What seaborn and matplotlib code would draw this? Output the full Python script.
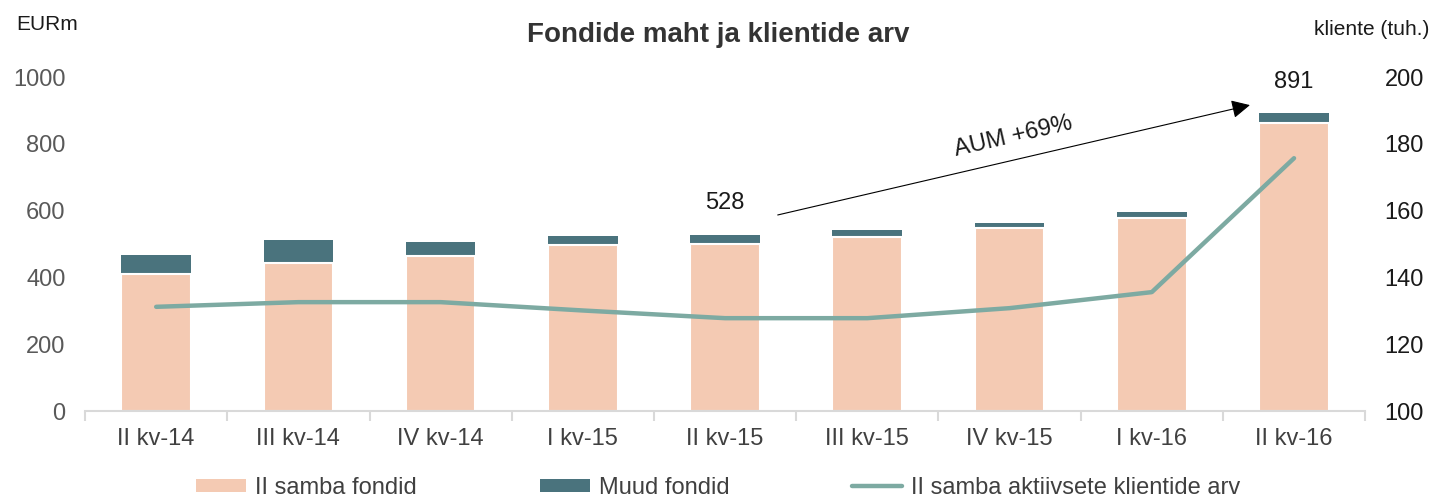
import numpy as np
import pandas as pd
import matplotlib
matplotlib.use("Agg")
import matplotlib.pyplot as plt
import seaborn as sns
from matplotlib.patches import Patch
from matplotlib.lines import Line2D

# data
quarters = ['II kv-14', 'III kv-14', 'IV kv-14', 'I kv-15', 'II kv-15',
            'III kv-15', 'IV kv-15', 'I kv-16', 'II kv-16']
pillar2_funds = [410, 443, 464, 497, 500, 521, 548, 578, 862]   # II samba fondid
other_funds = [57, 69, 42, 27, 28, 21, 15, 18, 29]              # Muud fondid
clients = [131.2, 132.6, 132.6, 130.1, 127.8, 127.8, 130.8, 135.6, 175.7]  # tuh.

PEACH = '#F4CAB3'
TEAL_DARK = '#4A737D'
LINE_COL = '#7DAAA2'

sns.set_theme(style='white')
plt.rcParams['font.family'] = ['Liberation Sans', 'DejaVu Sans']

df = pd.DataFrame({'quarter': quarters,
                   'pillar2': pillar2_funds,
                   'total': np.array(pillar2_funds) + np.array(other_funds),
                   'clients': clients})

fig = plt.figure(figsize=(14.37, 4.97), dpi=100)
ax = fig.add_axes([0.0592, 0.173, 0.8908, 0.672])

sns.barplot(data=df, x='quarter', y='total', color=TEAL_DARK, width=0.49,
            saturation=1, edgecolor='white', linewidth=0, ax=ax)
sns.barplot(data=df, x='quarter', y='pillar2', color=PEACH, width=0.49,
            saturation=1, edgecolor='white', linewidth=1.5, ax=ax)

ax.set_xlim(-0.5, len(quarters) - 0.5)
ax.set_ylim(0, 1000)
ax.set_yticks([0, 200, 400, 600, 800, 1000])
ax.set_xlabel('')
ax.set_ylabel('')
ax.tick_params(axis='y', labelsize=17, labelcolor='#595959', length=0, pad=14)
ax.tick_params(axis='x', which='major', labelsize=17, labelcolor='#404040', length=0, pad=12)
ax.set_xticks(np.arange(-0.5, len(quarters)), minor=True)
ax.tick_params(axis='x', which='minor', bottom=True, length=7, color='#D9D9D9', width=1.5)
for s in ['top', 'left', 'right']:
    ax.spines[s].set_visible(False)
ax.spines['bottom'].set_color('#D9D9D9')
ax.spines['bottom'].set_linewidth(1.5)

ax2 = ax.twinx()
sns.lineplot(x=np.arange(len(quarters)), y=df['clients'], color=LINE_COL,
             linewidth=3.2, ax=ax2)
ax2.set_ylim(100, 200)
ax2.set_yticks([100, 120, 140, 160, 180, 200])
ax2.set_ylabel('')
ax2.tick_params(axis='y', labelsize=17, labelcolor='#1a1a1a', length=0, pad=14)
for s in ['top', 'left', 'right', 'bottom']:
    ax2.spines[s].set_visible(False)

# annotations
total = df['total'].values
ax.text(4, total[4] + 95, f'{total[4]:.0f}', ha='center', va='center', fontsize=17, color='#1a1a1a')
ax.text(8, total[8] + 94, f'{total[8]:.0f}', ha='center', va='center', fontsize=17, color='#1a1a1a')
ax.annotate('', xy=(7.69, 916), xytext=(4.37, 587),
            arrowprops=dict(arrowstyle='-|>', color='black', lw=0.8,
                            mutation_scale=28, shrinkA=0, shrinkB=0))
ax.text(6.03, 822, 'AUM +69%', rotation=13, ha='center', va='center',
        fontsize=17, color='#1a1a1a', rotation_mode='anchor')

fig.text(0.5, 0.93, 'Fondide maht ja klientide arv', ha='center', va='center',
         fontsize=20, fontweight='bold', color='#333333')
fig.text(0.011, 0.95, 'EURm', ha='left', va='center', fontsize=15, color='#1a1a1a')
fig.text(0.995, 0.94, 'kliente (tuh.)', ha='right', va='center', fontsize=15, color='#1a1a1a')

handles = [Patch(facecolor=PEACH, edgecolor='none'),
           Patch(facecolor=TEAL_DARK, edgecolor='none'),
           Line2D([0], [0], color=LINE_COL, lw=3.2)]
labels = ['II samba fondid', 'Muud fondid', 'II samba aktiivsete klientide arv']
fig.legend(handles, labels, loc='center', bbox_to_anchor=(0.5, 0.018), ncol=3,
           frameon=False, fontsize=17, handlelength=2.1, handleheight=0.5,
           columnspacing=5.2, handletextpad=0.4, labelcolor='#404040')

fig.savefig('out.png', dpi=100)
